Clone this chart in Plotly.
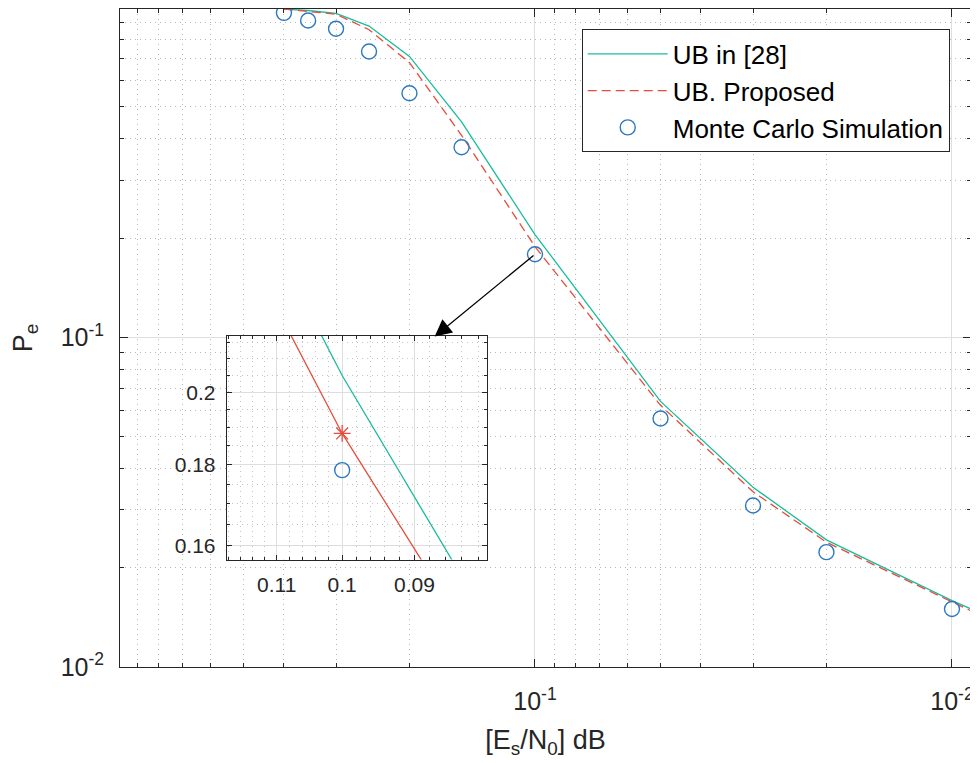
import numpy as np
import plotly.graph_objects as go

# Es/N0 grid for the bounds and for the simulation points
es_n0_ub = [0.4, 0.35, 0.3, 0.25, 0.2, 0.15, 0.1, 0.05, 0.03, 0.02, 0.01, 0.009]
ub_ref28 = [0.99, 0.98, 0.96, 0.879, 0.711, 0.45, 0.205, 0.0639, 0.0351, 0.0243, 0.0159, 0.0150]
ub_proposed = [0.99, 0.975, 0.955, 0.857, 0.681, 0.41, 0.1884, 0.0622, 0.034, 0.0239, 0.0157, 0.0148]

es_n0_mc = [0.4, 0.35, 0.3, 0.25, 0.2, 0.15, 0.1, 0.05, 0.03, 0.02, 0.01]
pe_mc = [0.964, 0.914, 0.863, 0.736, 0.55, 0.377, 0.1786, 0.0567, 0.0309, 0.0223, 0.0150]

# tick labels
main_ticks = [1, 0.1, 0.01]
main_ticktext = ["10<sup>0</sup>", "10<sup>-1</sup>", "10<sup>-2</sup>"]
inset_xticks = [0.09, 0.1, 0.11]
inset_yticks = [0.16, 0.18, 0.2]

TEAL = "#1ABC9C"
RED = "#E74C3C"
BLUE = "#2A78C2"
FONT = "Liberation Sans, Arial, sans-serif"
AX = "#262626"

decade_minor = [k * 10.0 ** d for d in range(-3, 1) for k in range(2, 10)]
inset_xminor = [round(v, 3) for v in np.arange(0.080, 0.1201, 0.002)]
inset_yminor = [round(v, 3) for v in np.arange(0.150, 0.2201, 0.005)]

fig = go.Figure()
fig.add_trace(go.Scatter(x=es_n0_ub, y=ub_ref28, mode="lines", name="UB in [28]",
                         line=dict(color=TEAL, width=1.3)))
fig.add_trace(go.Scatter(x=es_n0_ub, y=ub_proposed, mode="lines", name="UB. Proposed",
                         line=dict(color=RED, width=1.3, dash="9px,5px")))
fig.add_trace(go.Scatter(x=es_n0_mc, y=pe_mc, mode="markers", name="Monte Carlo Simulation",
                         marker=dict(symbol="circle-open", size=15, color=BLUE,
                                     line=dict(width=1.4, color=BLUE))))

# zoomed inset around Es/N0 = 0.1
i01 = es_n0_ub.index(0.1)
fig.add_trace(go.Scatter(x=es_n0_ub, y=ub_ref28, mode="lines", xaxis="x2", yaxis="y2",
                         showlegend=False, line=dict(color=TEAL, width=1.3)))
fig.add_trace(go.Scatter(x=es_n0_ub, y=ub_proposed, mode="lines", xaxis="x2", yaxis="y2",
                         showlegend=False, line=dict(color=RED, width=1.3)))
fig.add_trace(go.Scatter(x=[es_n0_ub[i01]], y=[ub_proposed[i01]], mode="markers",
                         xaxis="x2", yaxis="y2", showlegend=False,
                         marker=dict(symbol="asterisk-open", size=14, color=RED,
                                     line=dict(width=1.3, color=RED))))
fig.add_trace(go.Scatter(x=es_n0_mc, y=pe_mc, mode="markers", xaxis="x2", yaxis="y2",
                         showlegend=False,
                         marker=dict(symbol="circle-open", size=15, color=BLUE,
                                     line=dict(width=1.4, color=BLUE))))

j01 = es_n0_mc.index(0.1)
fig.add_annotation(xref="x", yref="y", axref="x", ayref="y",
                   x=np.log10(0.174), y=np.log10(0.1005),
                   ax=np.log10(es_n0_mc[j01]), ay=np.log10(pe_mc[j01]),
                   text="", showarrow=True, arrowhead=2, arrowsize=2.6,
                   arrowwidth=1.3, arrowcolor="black", startstandoff=0, standoff=0)

axis_common = dict(type="log", showline=True, linecolor=AX, linewidth=1, mirror="ticks",
                   ticks="inside", ticklen=8, tickcolor=AX, showgrid=True,
                   gridcolor="#dedede", gridwidth=1, zeroline=False, automargin=False,
                   tickfont=dict(family=FONT, size=25, color=AX))

# the page body adds an 8px margin, so the figure is sized to fit the window
fig.update_layout(
    width=970, height=755,
    margin=dict(l=112, r=7, t=1, b=96),
    paper_bgcolor="white", plot_bgcolor="white",
    font=dict(family=FONT, color=AX),
    xaxis=dict(axis_common, range=[-0.0048, -2.0456], tickmode="array",
               tickvals=main_ticks, ticktext=main_ticktext, ticklabelstandoff=12,
               minor=dict(tickmode="array", tickvals=decade_minor, ticks="inside", ticklen=4,
                          tickcolor=AX, showgrid=True, gridcolor="#b8b8b8",
                          griddash="1px,4px", gridwidth=1),
               title=dict(text="[E<sub>s</sub>/N<sub>0</sub>] dB", standoff=16,
                          font=dict(family=FONT, size=27, color=AX))),
    yaxis=dict(axis_common, range=[-2.0, -0.0042], tickmode="array",
               tickvals=main_ticks, ticktext=main_ticktext, ticklabelstandoff=10,
               minor=dict(tickmode="array", tickvals=decade_minor, ticks="inside", ticklen=4,
                          tickcolor=AX, showgrid=True, gridcolor="#b8b8b8",
                          griddash="1px,4px", gridwidth=1),
               title=dict(text="P<sub>e</sub>", standoff=26,
                          font=dict(family=FONT, size=27, color=AX))),
    xaxis2=dict(axis_common, domain=[0.1254, 0.4309], anchor="y2",
                range=[-0.927, -1.0914], tickmode="array", tickvals=inset_xticks,
                ticktext=[str(v) for v in inset_xticks], ticklen=5,
                tickfont=dict(family=FONT, size=21, color=AX), ticklabelstandoff=6,
                minor=dict(tickmode="array", tickvals=inset_xminor, ticks="inside", ticklen=3,
                           tickcolor=AX, showgrid=True, gridcolor="#c4c4c4",
                           griddash="1px,4px", gridwidth=1)),
    yaxis2=dict(axis_common, domain=[0.1632, 0.5036], anchor="x2",
                range=[-0.8048, -0.663], tickmode="array", tickvals=inset_yticks,
                ticktext=[str(v) for v in inset_yticks], ticklen=5,
                tickfont=dict(family=FONT, size=21, color=AX), ticklabelstandoff=6,
                minor=dict(tickmode="array", tickvals=inset_yminor, ticks="inside", ticklen=3,
                           tickcolor=AX, showgrid=True, gridcolor="#c4c4c4",
                           griddash="1px,4px", gridwidth=1)),
    legend=dict(x=0.975, y=0.969, xanchor="right", yanchor="top",
                bgcolor="white", bordercolor=AX, borderwidth=1,
                font=dict(family=FONT, size=26, color="black"),
                itemwidth=80, tracegroupgap=0),
    showlegend=True,
)

fig.write_html("out.html")
